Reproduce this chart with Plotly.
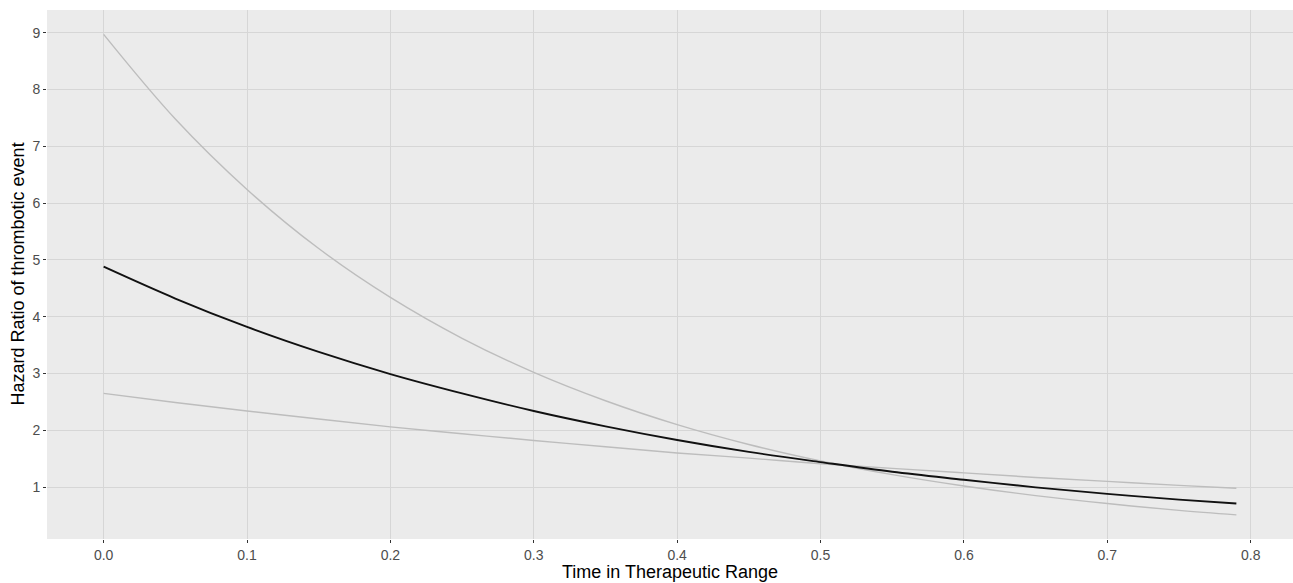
import plotly.graph_objects as go

tir = [0.0, 0.05, 0.1, 0.15, 0.2, 0.25, 0.3, 0.35, 0.4, 0.45, 0.5, 0.55, 0.6, 0.65, 0.7, 0.75, 0.79]
hr_est = [4.88, 4.32, 3.82, 3.38, 2.99, 2.65, 2.34, 2.07, 1.83, 1.62, 1.44, 1.27, 1.13, 0.995, 0.88, 0.78, 0.71]
hr_upper = [8.97, 7.48, 6.24, 5.20, 4.34, 3.62, 3.02, 2.52, 2.10, 1.75, 1.46, 1.22, 1.02, 0.85, 0.71, 0.59, 0.51]
hr_lower = [2.65, 2.49, 2.34, 2.20, 2.06, 1.94, 1.82, 1.71, 1.60, 1.51, 1.41, 1.33, 1.25, 1.17, 1.10, 1.03, 0.98]

x_ticks = [0.0, 0.1, 0.2, 0.3, 0.4, 0.5, 0.6, 0.7, 0.8]
x_tick_labels = ["0.0", "0.1", "0.2", "0.3", "0.4", "0.5", "0.6", "0.7", "0.8"]
y_ticks = [1, 2, 3, 4, 5, 6, 7, 8, 9]

fig = go.Figure()
fig.add_trace(go.Scatter(x=tir, y=hr_upper, mode="lines", line=dict(color="#BDBDBD", width=1.4, shape="spline"), showlegend=False))
fig.add_trace(go.Scatter(x=tir, y=hr_lower, mode="lines", line=dict(color="#BDBDBD", width=1.4, shape="spline"), showlegend=False))
fig.add_trace(go.Scatter(x=tir, y=hr_est, mode="lines", line=dict(color="#111111", width=1.9, shape="spline"), showlegend=False))

fig.update_layout(
    width=1293, height=583,
    margin=dict(l=47, r=0, t=10, b=44, autoexpand=False),
    paper_bgcolor="white", plot_bgcolor="#EBEBEB",
    font=dict(family="Liberation Sans, Arial, sans-serif", color="#4D4D4D", size=12),
)
fig.update_xaxes(
    range=[-0.0395, 0.8295], tickvals=x_ticks, ticktext=x_tick_labels, automargin=False,
    showgrid=True, gridcolor="#D6D6D6", gridwidth=1.3, zeroline=False,
    ticks="outside", ticklen=3, tickcolor="#333333", tickwidth=1,
    tickfont=dict(size=14, color="#4D4D4D"),
)
fig.update_yaxes(
    range=[0.086, 9.40], tickvals=y_ticks, automargin=False,
    showgrid=True, gridcolor="#D6D6D6", gridwidth=1.3, zeroline=False,
    ticks="outside", ticklen=3, tickcolor="#333333", tickwidth=1,
    tickfont=dict(size=14, color="#4D4D4D"),
)
fig.add_annotation(text="Time in Therapeutic Range", xref="paper", yref="paper",
                   x=0.5, y=-33 / 529, xanchor="center", yanchor="middle",
                   showarrow=False, font=dict(size=18, color="black"))
fig.add_annotation(text="Hazard Ratio of thrombotic event", xref="paper", yref="paper",
                   x=-30 / 1246, y=0.5, xanchor="center", yanchor="middle", textangle=-90,
                   showarrow=False, font=dict(size=18, color="black"))

fig.write_html("out.html", config={"displayModeBar": False},
               post_script="document.body.style.margin='0';document.body.style.overflow='hidden';")
